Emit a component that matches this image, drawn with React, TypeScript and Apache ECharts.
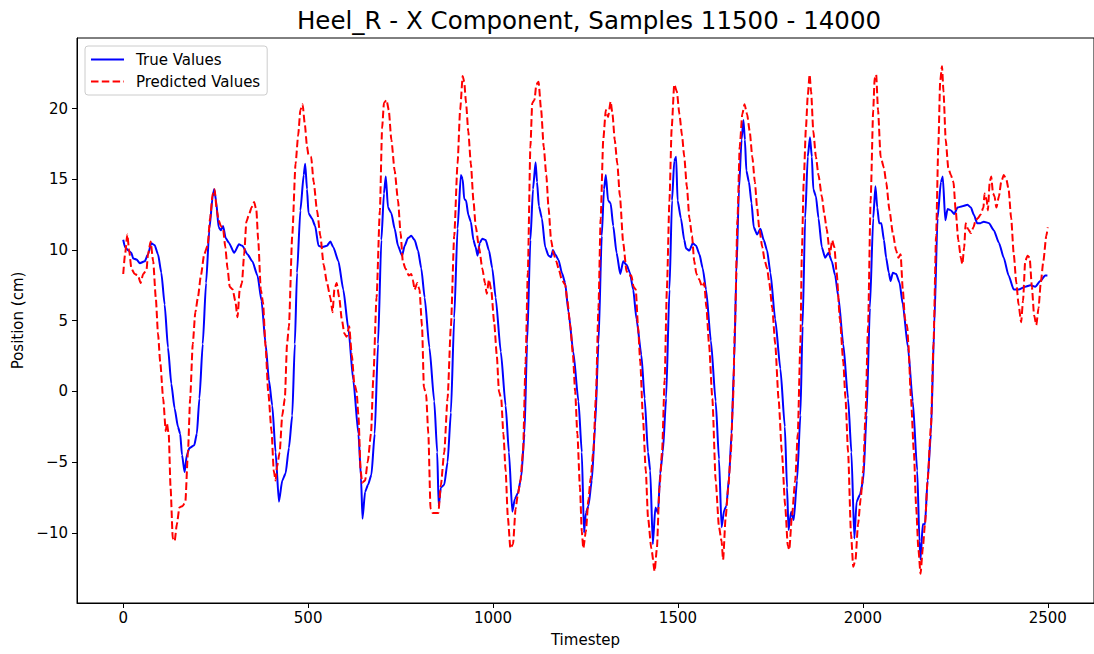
import React, { useEffect, useRef } from "react";
import * as echarts from "echarts";

const TITLE = "Heel_R - X Component, Samples 11500 - 14000";
const X_TICKS = [0, 500, 1000, 1500, 2000, 2500];
const Y_TICKS = [-10, -5, 0, 5, 10, 15, 20];

const trueT = [0,5,14,22,27,36,45,58,67,76,85,94,103,112,121,130,139,148,154,159,166,172,179,192,199,206,215,224,233,242,246,251,258,264,270,277,286,300,313,322,336,349,363,374,385,394,403,412,421,430,439,448,457,464,470,479,488,492,497,501,510,519,528,537,551,560,568,582,595,609,622,636,643,647,654,662,671,680,689,698,705,710,716,725,734,743,754,761,770,779,788,797,806,815,828,841,849,853,859,868,877,886,895,904,913,918,922,927,933,940,947,953,958,964,971,980,989,998,1007,1021,1034,1043,1052,1059,1067,1076,1085,1092,1101,1108,1115,1119,1124,1132,1141,1150,1157,1162,1168,1177,1186,1195,1204,1217,1231,1240,1246,1251,1258,1267,1276,1285,1294,1300,1305,1311,1318,1325,1334,1344,1352,1361,1370,1379,1388,1401,1410,1419,1425,1432,1439,1446,1452,1459,1468,1477,1484,1490,1495,1499,1508,1517,1522,1531,1540,1549,1558,1567,1576,1589,1602,1611,1618,1625,1631,1638,1645,1652,1658,1665,1672,1677,1681,1685,1692,1699,1705,1714,1723,1732,1741,1750,1763,1777,1789,1795,1799,1806,1813,1822,1831,1837,1844,1851,1857,1862,1866,1873,1880,1889,1898,1907,1916,1925,1934,1947,1960,1969,1977,1983,1992,2001,2010,2019,2028,2034,2039,2044,2050,2057,2063,2070,2075,2081,2090,2099,2108,2122,2135,2147,2153,2156,2162,2168,2175,2184,2193,2202,2211,2216,2223,2229,2238,2247,2256,2269,2283,2292,2300,2309,2318,2327,2341,2354,2368,2381,2394,2408,2421,2439,2453,2466,2480,2493,2499];
const trueV = [10.72,10.2,9.96,9.8,9.4,9.33,9.07,9.2,9.7,10.47,10.34,9.7,8.4,6.15,3.1,0.55,-1.2,-2.5,-3.0,-4.5,-5.7,-4.5,-4.0,-3.8,-3.0,-0.5,3.35,7.67,11.5,13.8,14.3,13.5,11.6,11.4,11.7,10.85,10.5,9.8,10.4,10.3,9.7,9.2,8.2,6.4,3.35,0.8,-1.0,-4.3,-7.8,-6.3,-5.8,-4.0,-1.7,3.35,8.4,12.8,15.3,16.1,14.3,12.6,12.25,11.7,10.3,10.2,10.3,10.6,10.2,9.2,7.2,4.4,0.8,-3.0,-6.1,-9.0,-7.1,-6.6,-5.9,-3.0,3.35,10.7,14.0,15.2,13.0,12.6,11.5,10.3,9.6,10.3,10.85,11.0,10.7,9.96,8.7,6.65,3.1,-0.7,-4.3,-8.1,-6.8,-6.6,-5.0,-1.5,5.2,11.5,15.3,15.0,13.6,13.5,12.5,12.0,10.7,10.2,9.6,10.5,10.8,10.7,9.96,8.7,6.65,2.8,-1.0,-4.3,-8.5,-7.6,-7.2,-6.1,-3.0,3.35,10.7,14.3,16.2,14.8,13.1,12.25,10.2,9.6,9.5,10.0,9.7,9.3,8.4,7.67,5.6,2.8,-0.7,-4.3,-10.0,-8.6,-8.1,-6.3,-2.5,3.35,11.0,14.3,15.3,13.5,13.3,11.7,9.8,8.3,9.2,8.95,8.4,7.2,5.1,2.6,-0.5,-4.3,-5.6,-10.8,-8.2,-8.6,-5.8,-4.3,-0.5,7.2,13.5,16.3,16.6,13.5,12.25,10.7,10.1,9.96,10.47,10.3,9.7,8.7,7.2,3.6,-0.7,-4.8,-9.6,-8.4,-8.1,-6.1,-3.0,2.1,8.4,14.3,17.8,19.2,17.8,15.6,14.8,13.3,11.6,11.1,11.5,10.7,9.96,8.4,5.1,1.6,-2.5,-6.8,-9.8,-8.5,-9.1,-6.3,-1.7,4.6,12.25,16.6,17.97,16.6,14.3,13.8,12.25,10.2,9.45,9.8,9.2,8.2,6.65,3.35,-0.5,-4.3,-10.4,-7.8,-7.3,-6.3,-1.7,5.9,12.25,14.5,13.0,11.9,11.9,10.7,9.45,8.4,7.8,8.4,8.3,7.7,6.15,3.1,-0.7,-5.6,-10.6,-11.9,-9.4,-9.4,-6.3,-3.0,4.6,12.25,14.8,15.2,12.1,12.9,12.8,12.55,13.0,13.1,13.2,13.0,12.5,11.9,11.9,12.0,11.9,11.4,10.5,9.45,8.2,7.2,7.2,7.4,7.5,7.4,7.8,8.2,8.2];

const predT = [0,5,11,16,22,31,40,47,54,63,67,74,81,88,94,100,108,115,118,123,128,134,139,145,152,161,168,175,181,188,195,202,210,219,228,235,242,247,253,258,264,270,276,282,288,296,303,309,315,321,327,333,340,347,354,360,365,372,378,385,392,401,407,412,416,423,430,437,443,448,457,466,473,479,485,491,497,501,508,515,524,533,542,551,560,566,571,577,584,591,598,604,611,618,625,631,636,642,646,654,661,670,676,685,694,700,705,712,718,725,734,743,750,756,763,772,779,783,788,795,801,808,813,819,825,831,837,846,852,859,868,877,886,895,904,911,918,922,927,933,940,947,953,962,971,978,983,989,995,1003,1010,1016,1022,1028,1034,1040,1047,1054,1061,1067,1074,1081,1088,1094,1101,1106,1112,1117,1123,1130,1137,1144,1150,1157,1164,1171,1177,1186,1195,1201,1209,1216,1222,1228,1235,1240,1244,1251,1258,1264,1271,1278,1285,1291,1298,1305,1311,1318,1323,1329,1336,1343,1352,1361,1368,1374,1380,1386,1392,1398,1405,1413,1419,1428,1437,1443,1450,1457,1464,1470,1477,1483,1490,1497,1504,1511,1517,1524,1531,1538,1544,1550,1558,1565,1571,1577,1584,1593,1602,1611,1618,1622,1629,1636,1643,1649,1654,1661,1667,1674,1680,1687,1694,1701,1708,1714,1720,1728,1735,1741,1747,1755,1763,1772,1781,1790,1797,1801,1808,1817,1824,1831,1835,1840,1846,1851,1856,1860,1866,1873,1880,1889,1896,1902,1911,1917,1923,1929,1938,1947,1953,1960,1968,1974,1980,1987,1994,2001,2007,2014,2021,2028,2032,2036,2041,2048,2057,2063,2072,2081,2090,2096,2102,2108,2114,2120,2123,2130,2138,2144,2150,2156,2162,2168,2175,2184,2191,2198,2204,2209,2214,2218,2224,2231,2238,2245,2251,2258,2265,2269,2274,2278,2284,2292,2299,2305,2311,2318,2326,2329,2335,2338,2343,2347,2352,2356,2361,2368,2374,2381,2388,2394,2401,2408,2415,2421,2428,2433,2439,2445,2451,2457,2463,2469,2475,2481,2488,2496,2500];
const predV = [8.3,9.7,11.1,9.96,8.7,8.3,8.2,7.67,8.3,8.6,9.7,10.6,9.2,6.65,4.1,2.1,-0.5,-2.8,-2.25,-3.0,-6.8,-10.4,-10.6,-9.4,-8.2,-8.1,-7.8,-4.3,-0.5,3.35,5.6,6.65,8.2,9.7,10.3,12.25,14.0,14.3,12.8,12.1,11.7,11.5,10.2,8.7,7.4,7.2,6.4,5.25,7.2,7.67,9.7,12.0,12.5,13.0,13.4,12.8,10.7,7.2,6.3,3.1,0.0,-2.8,-5.6,-6.3,-5.3,-4.3,-1.7,-0.5,3.35,4.6,11.0,16.1,18.1,19.9,20.3,18.9,17.3,16.7,16.6,14.8,12.8,11.0,8.95,7.67,6.65,5.6,7.2,7.67,6.65,5.1,4.1,3.86,4.6,2.6,0.55,0.0,-1.7,-5.6,-6.45,-6.3,-5.0,-3.0,0.8,6.65,12.8,18.6,20.4,20.6,19.9,17.8,15.6,13.5,11.2,9.2,8.7,8.2,8.3,7.9,7.2,7.67,7.2,4.6,0.3,-0.2,-3.0,-8.3,-8.6,-8.6,-8.6,-6.6,-4.3,-0.5,4.6,11.0,16.1,19.9,22.3,21.9,20.4,18.4,16.1,13.5,11.7,10.2,8.7,7.67,6.9,7.9,7.2,4.9,2.6,0.0,-0.5,-3.0,-5.6,-8.9,-11.1,-10.8,-8.3,-7.3,-6.3,-4.3,2.1,8.4,17.3,20.4,20.6,21.7,21.9,19.9,17.3,15.3,13.0,10.7,9.7,9.2,8.7,7.9,7.55,6.4,4.6,2.6,0.0,-3.0,-6.8,-9.9,-11.1,-9.9,-7.6,-6.1,-4.3,-0.5,5.9,12.25,17.8,19.9,19.4,20.5,19.6,17.8,16.1,13.8,10.5,8.5,8.2,8.2,7.4,7.2,4.6,2.1,-1.7,-5.6,-8.9,-11.1,-12.7,-11.1,-6.8,-4.3,0.8,7.2,13.5,18.6,21.7,21.2,19.6,18.1,16.6,14.5,12.25,11.0,9.2,8.3,7.9,7.4,7.67,5.9,3.35,-0.5,-6.3,-9.6,-10.6,-11.9,-8.9,-6.8,-4.3,-0.5,4.6,12.25,17.3,19.6,20.3,19.6,18.4,16.6,14.8,13.0,11.5,10.2,9.2,8.7,7.67,5.9,3.35,-0.5,-4.3,-8.1,-10.9,-11.2,-8.9,-6.3,-3.0,3.35,9.7,14.8,18.6,20.9,22.4,21.2,18.4,16.6,15.3,13.8,12.5,11.5,9.7,10.7,10.2,8.4,5.1,2.1,-0.5,-4.3,-10.1,-12.4,-11.9,-9.4,-7.6,-5.6,-1.7,4.6,13.5,19.9,22.2,22.4,19.9,16.6,15.8,14.8,12.8,11.2,9.96,9.45,9.7,7.2,5.1,4.6,3.35,-0.5,-4.3,-8.1,-11.1,-12.9,-11.1,-9.4,-6.3,-2.5,3.35,11.0,17.3,21.9,23.0,21.2,17.8,15.8,15.3,14.8,12.8,10.7,9.45,9.0,10.2,11.9,11.5,11.2,11.6,12.1,12.25,12.5,13.0,14.0,13.5,12.8,14.8,15.2,14.0,13.8,13.0,13.8,14.8,15.3,15.0,14.3,12.25,9.7,7.67,6.15,4.9,6.4,9.2,9.6,9.45,7.4,5.4,4.7,5.9,7.67,9.2,11.0,11.6];

const FONT = "DejaVu Sans";
const FS = 15;
const fmt = (v: number) => String(v).replace("-", "\u2212");

export default function App() {
  const ref = useRef<HTMLDivElement>(null);
  useEffect(() => {
    if (!ref.current) return;
    const chart = echarts.init(ref.current, undefined, { renderer: "svg" });
    const trueData = trueT.map((t, i) => [t, trueV[i]]);
    const predData = predT.map((t, i) => [t, predV[i]]);
    chart.setOption({
      animation: false,
      backgroundColor: "#ffffff",
      textStyle: { fontFamily: FONT },
      graphic: [
        {
          type: "text",
          x: 589,
          y: 20,
          style: {
            text: TITLE,
            fontFamily: FONT,
            fontSize: 24.5,
            fill: "#000",
            textAlign: "center",
            textVerticalAlign: "middle",
          },
        },
      ],
      grid: {
        left: 77,
        top: 38,
        width: 1024,
        height: 565,
        show: true,
        borderColor: "#000",
        borderWidth: 1,
        backgroundColor: "transparent",
      },
      legend: {
        data: ["True Values", "Predicted Values"],
        orient: "vertical",
        left: 85,
        top: 46,
        itemWidth: 33,
        itemHeight: 14,
        itemGap: 5,
        padding: [5, 7, 5, 5],
        backgroundColor: "#fff",
        borderColor: "#cccccc",
        borderWidth: 1,
        borderRadius: 3,
        itemStyle: { opacity: 0 },
        textStyle: { fontFamily: FONT, fontSize: FS, color: "#000", lineHeight: 17, padding: [0, 0, 0, 7] },
      },
      xAxis: {
        type: "value",
        min: -125,
        max: 2625,
        name: "Timestep",
        nameLocation: "middle",
        nameGap: 29,
        nameTextStyle: { fontFamily: FONT, fontSize: FS, color: "#000" },
        axisLine: { show: true, onZero: false, lineStyle: { color: "#000", width: 1 } },
        axisTick: { show: true, customValues: X_TICKS, length: 5, lineStyle: { color: "#000", width: 1 } },
        axisLabel: { customValues: X_TICKS, margin: 7, fontFamily: FONT, fontSize: FS, color: "#000", formatter: fmt },
        splitLine: { show: false },
      },
      yAxis: {
        type: "value",
        min: -14.96,
        max: 24.99,
        name: "Position (cm)",
        nameLocation: "middle",
        nameGap: 52,
        nameTextStyle: { fontFamily: FONT, fontSize: FS, color: "#000" },
        axisLine: { show: true, onZero: false, lineStyle: { color: "#000", width: 1 } },
        axisTick: { show: true, customValues: Y_TICKS, length: 5, lineStyle: { color: "#000", width: 1 } },
        axisLabel: { customValues: Y_TICKS, margin: 9, fontFamily: FONT, fontSize: FS, color: "#000", formatter: fmt },
        splitLine: { show: false },
      },
      series: [
        {
          name: "True Values",
          type: "line",
          data: trueData,
          showSymbol: false,
          symbol: "none",
          smooth: 0.2,
          smoothMonotone: "x",
          lineStyle: { color: "#0000ff", width: 2 },
          itemStyle: { color: "#0000ff" },
        },
        {
          name: "Predicted Values",
          type: "line",
          data: predData,
          showSymbol: false,
          symbol: "none",
          smooth: 0.2,
          smoothMonotone: "x",
          lineStyle: { color: "#ff0000", width: 2, type: [7.5, 3.3] },
          itemStyle: { color: "#ff0000" },
        },
      ],
    });
    return () => chart.dispose();
  }, []);
  return (
    <div
      ref={ref}
      style={{ position: "fixed", left: 0, top: 0, width: 1094, height: 654, background: "#fff" }}
    />
  );
}
